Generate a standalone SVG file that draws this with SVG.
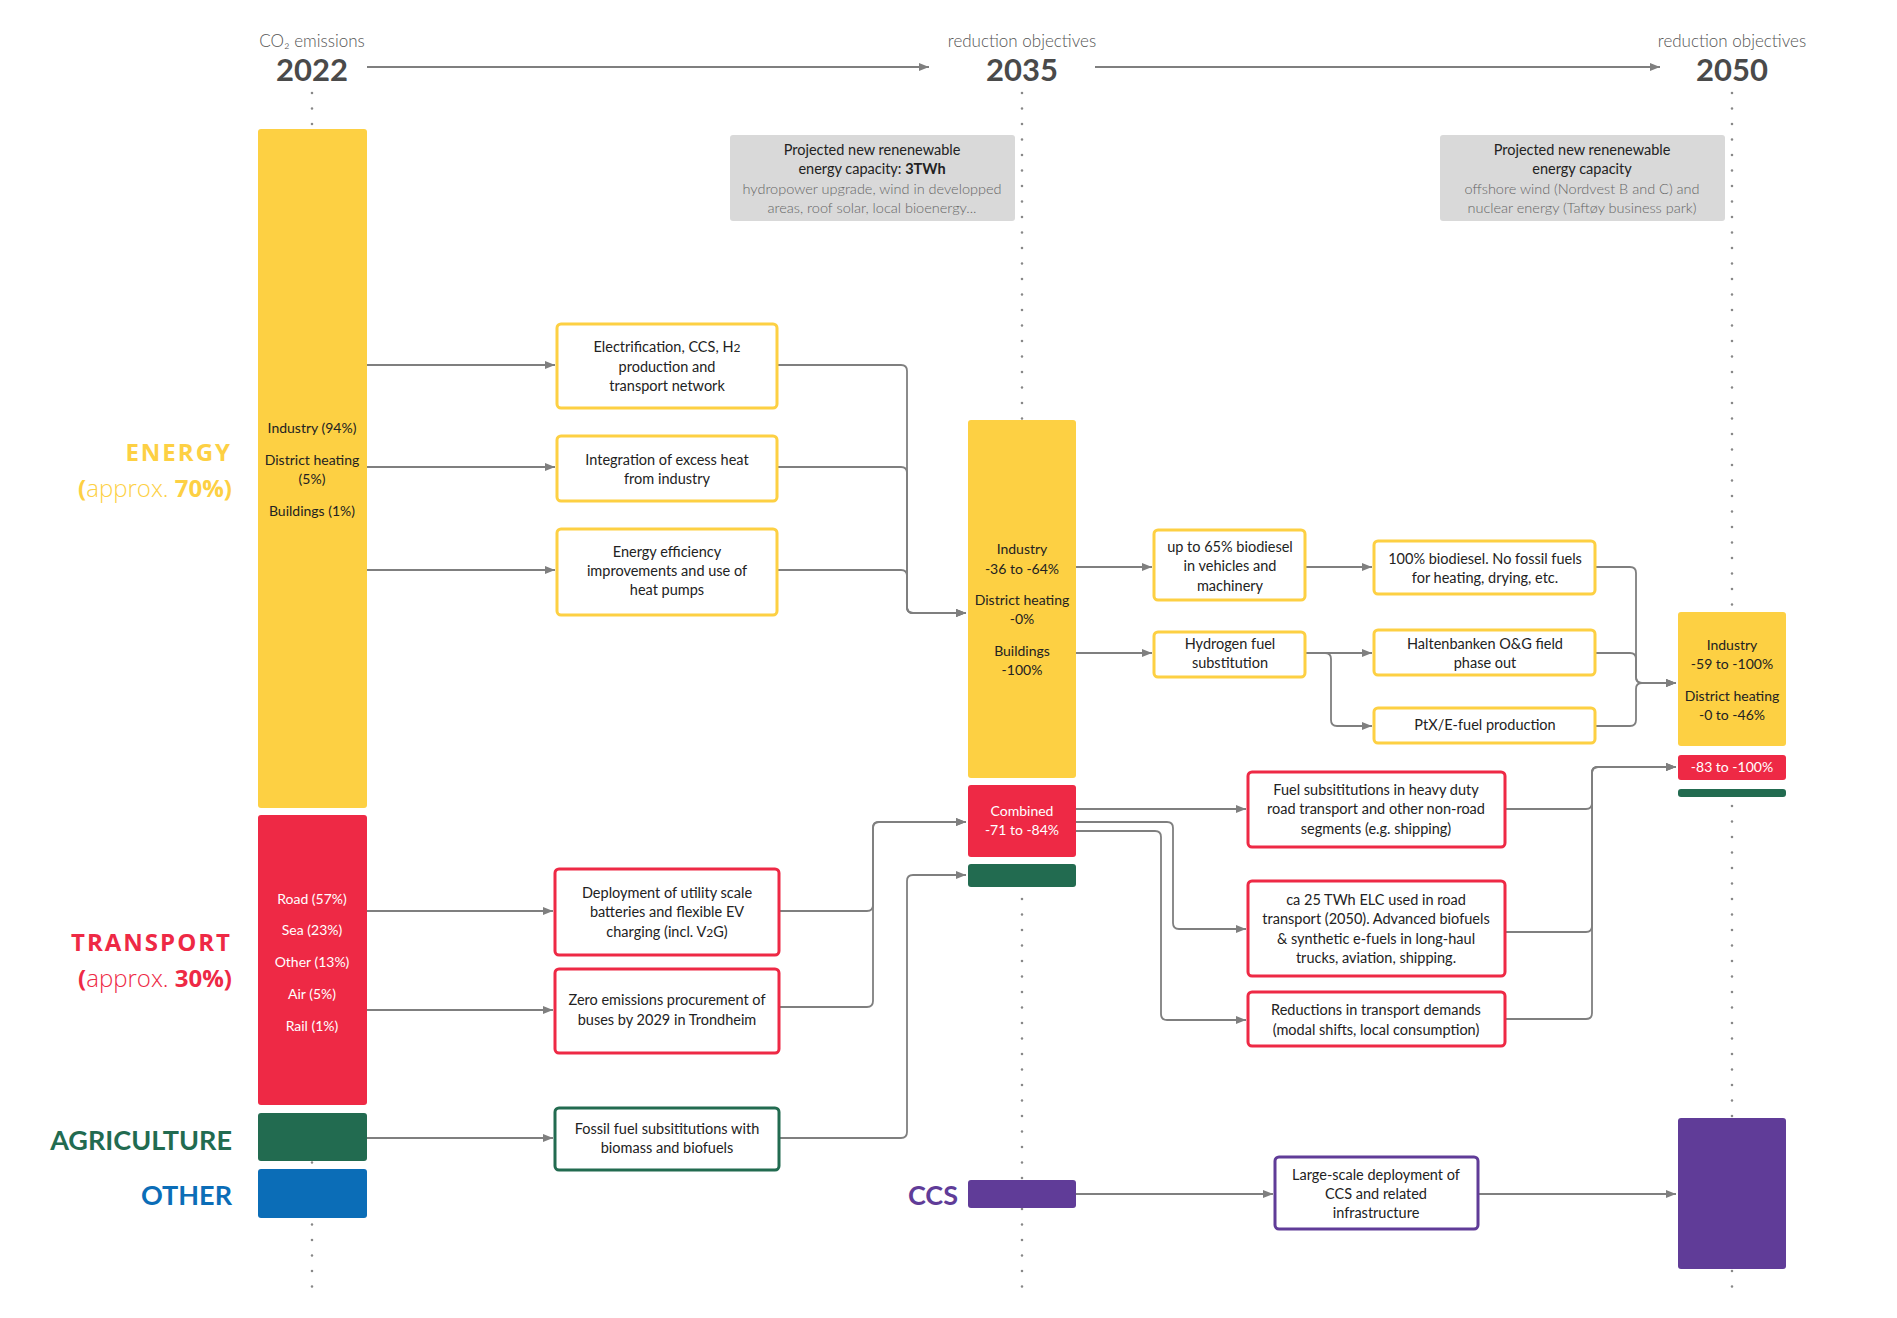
<svg xmlns="http://www.w3.org/2000/svg" width="1897" height="1318" viewBox="0 0 1897 1318">
<style>
text{font-family:Lato,"Open Sans","Liberation Sans",sans-serif;}
.hdr{font-size:17px;font-weight:300;fill:#555;text-anchor:middle;}
.year{font-size:31px;font-weight:700;fill:#4a4a4a;text-anchor:middle;}
.bt{font-size:14.5px;fill:#222;text-anchor:middle;}
.gt{font-size:14.5px;fill:#666;text-anchor:middle;font-weight:300;}
.st{font-size:14px;fill:#222;text-anchor:middle;}
.wt{font-size:14px;fill:#fff;text-anchor:middle;}
.cat{font-family:"Open Sans",Lato,sans-serif;font-size:24px;font-weight:700;text-anchor:end;letter-spacing:2px;}
.catl{font-family:"Open Sans",Lato,sans-serif;font-size:24px;text-anchor:end;}
.cat2{font-size:27px;font-weight:700;text-anchor:end;}
.dot{stroke:#888;stroke-width:2.6;stroke-dasharray:0 15.5;stroke-linecap:round;fill:none;}
.conn{fill:none;stroke:#7f7f7f;stroke-width:1.8;marker-end:url(#ah);}
.by{fill:#fff;stroke:#FDD043;stroke-width:3;}
.br{fill:#fff;stroke:#EE2945;stroke-width:3;}
.bg{fill:#fff;stroke:#226B50;stroke-width:3;}
.bp{fill:#fff;stroke:#603C98;stroke-width:3;}
.yel{fill:#FDD043;}.red{fill:#EE2945;}.grn{fill:#226B50;}.blu{fill:#0B6DB7;}.pur{fill:#603C98;}
.gray{fill:#D9D9D9;}
</style>
<defs>
<marker id="ah" viewBox="0 0 10 8" refX="10" refY="4" markerWidth="10" markerHeight="8" markerUnits="userSpaceOnUse" orient="auto">
<path d="M0,0 L10,4 L0,8 z" fill="#7f7f7f"/>
</marker>
</defs>
<rect width="1897" height="1318" fill="#fff"/>

<g id="timeline">
<line class="dot" x1="312" y1="93" x2="312" y2="1302"/>
<line class="dot" x1="1022" y1="93" x2="1022" y2="1302"/>
<line class="dot" x1="1732" y1="93" x2="1732" y2="1302"/>
<text class="hdr" x="312" y="47">CO₂ emissions</text>
<text class="year" x="312" y="81">2022</text>
<text class="hdr" x="1022" y="47">reduction objectives</text>
<text class="year" x="1022" y="81">2035</text>
<text class="hdr" x="1732" y="47">reduction objectives</text>
<text class="year" x="1732" y="81">2050</text>
</g>

<g id="connectors">
<path class="conn" d="M367,67 H929"/>
<path class="conn" d="M1095,67 H1660"/>
<path class="conn" d="M367,365 H555"/>
<path class="conn" d="M367,467 H555"/>
<path class="conn" d="M367,570 H555"/>
<path class="conn" d="M777,365 H901 Q907,365 907,371 V607 Q907,613 913,613 H966"/>
<path class="conn" d="M777,467 H901 Q907,467 907,473 V607 Q907,613 913,613 H966"/>
<path class="conn" d="M777,570 H901 Q907,570 907,576 V607 Q907,613 913,613 H966"/>
<path class="conn" d="M367,911 H553"/>
<path class="conn" d="M367,1010 H553"/>
<path class="conn" d="M367,1138 H553"/>
<path class="conn" d="M779,911 H867 Q873,911 873,905 V828 Q873,822 879,822 H966"/>
<path class="conn" d="M779,1007 H867 Q873,1007 873,1001 V828 Q873,822 879,822 H966"/>
<path class="conn" d="M779,1138 H901 Q907,1138 907,1132 V881 Q907,875 913,875 H966"/>
<path class="conn" d="M1076,567 H1152"/>
<path class="conn" d="M1076,653 H1152"/>
<path class="conn" d="M1305,567 H1372"/>
<path class="conn" d="M1305,653 H1372"/>
<path class="conn" d="M1305,653 H1325 Q1331,653 1331,659 V720 Q1331,726 1337,726 H1372"/>
<path class="conn" d="M1595,567 H1630 Q1636,567 1636,573 V677 Q1636,683 1642,683 H1676"/>
<path class="conn" d="M1595,653 H1630 Q1636,653 1636,659 V677 Q1636,683 1642,683 H1676"/>
<path class="conn" d="M1595,726 H1630 Q1636,726 1636,720 V689 Q1636,683 1642,683 H1676"/>
<path class="conn" d="M1076,809 H1246"/>
<path class="conn" d="M1076,822 H1167 Q1173,822 1173,828 V923 Q1173,929 1179,929 H1246"/>
<path class="conn" d="M1076,831 H1155 Q1161,831 1161,837 V1014 Q1161,1020 1167,1020 H1246"/>
<path class="conn" d="M1505,809 H1586 Q1592,809 1592,803 V773 Q1592,767 1598,767 H1676"/>
<path class="conn" d="M1505,932 H1586 Q1592,932 1592,926 V773 Q1592,767 1598,767 H1676"/>
<path class="conn" d="M1505,1019 H1586 Q1592,1019 1592,1013 V773 Q1592,767 1598,767 H1676"/>
<path class="conn" d="M1076,1194 H1273"/>
<path class="conn" d="M1478,1194 H1676"/>
</g>

<g id="labels">
<text class="cat" x="232" y="461" fill="#FDD043">ENERGY</text>
<text class="catl" x="232" y="497" fill="#FDD043"><tspan font-weight="700">(</tspan><tspan font-weight="300">approx. </tspan><tspan font-weight="700">70%)</tspan></text>
<text class="cat" x="232" y="951" fill="#EE2945">TRANSPORT</text>
<text class="catl" x="232" y="987" fill="#EE2945"><tspan font-weight="700">(</tspan><tspan font-weight="300">approx. </tspan><tspan font-weight="700">30%)</tspan></text>
<text class="cat2" x="232" y="1150" fill="#226B50">AGRICULTURE</text>
<text class="cat2" x="232" y="1205" fill="#0B6DB7">OTHER</text>
<text class="cat2" x="958" y="1205" fill="#603C98">CCS</text>
</g>

<g id="bar-2022-energy">
<rect class="yel" x="258" y="129" width="109" height="679" rx="3"/>
<text class="st" x="312" y="433">Industry (94%)</text>
<text class="st" x="312" y="465">District heating</text>
<text class="st" x="312" y="484">(5%)</text>
<text class="st" x="312" y="516">Buildings (1%)</text>
</g>
<g id="bar-2022-transport">
<rect class="red" x="258" y="815" width="109" height="290" rx="3"/>
<text class="wt" x="312" y="904">Road (57%)</text>
<text class="wt" x="312" y="935">Sea (23%)</text>
<text class="wt" x="312" y="967">Other (13%)</text>
<text class="wt" x="312" y="999">Air (5%)</text>
<text class="wt" x="312" y="1031">Rail (1%)</text>
</g>
<g id="bar-2022-agriculture"><rect class="grn" x="258" y="1113" width="109" height="48" rx="3"/></g>
<g id="bar-2022-other"><rect class="blu" x="258" y="1169" width="109" height="49" rx="3"/></g>

<g id="renewables-2035">
<rect class="gray" x="730" y="135" width="285" height="86" rx="3"/>
<text class="bt" x="872" y="155">Projected new renenewable</text>
<text class="bt" x="872" y="174">energy capacity: <tspan font-weight="700">3TWh</tspan></text>
<text class="gt" x="872" y="194">hydropower upgrade, wind in developped</text>
<text class="gt" x="872" y="213">areas, roof solar, local bioenergy...</text>
</g>
<g id="renewables-2050">
<rect class="gray" x="1440" y="135" width="285" height="86" rx="3"/>
<text class="bt" x="1582" y="155">Projected new renenewable</text>
<text class="bt" x="1582" y="174">energy capacity</text>
<text class="gt" x="1582" y="194">offshore wind (Nordvest B and C) and</text>
<text class="gt" x="1582" y="213">nuclear energy (Taftøy business park)</text>
</g>

<g id="e1"><rect class="by" x="557" y="324" width="220" height="84" rx="4"/>
<text class="bt" x="667" y="352">Electrification, CCS, H<tspan font-size="12">2</tspan></text>
<text class="bt" x="667" y="372">production and</text>
<text class="bt" x="667" y="391">transport network</text></g>
<g id="e2"><rect class="by" x="557" y="436" width="220" height="65" rx="4"/>
<text class="bt" x="667" y="465">Integration of excess heat</text>
<text class="bt" x="667" y="484">from industry</text></g>
<g id="e3"><rect class="by" x="557" y="529" width="220" height="86" rx="4"/>
<text class="bt" x="667" y="557">Energy efficiency</text>
<text class="bt" x="667" y="576">improvements and use of</text>
<text class="bt" x="667" y="595">heat pumps</text></g>

<g id="t1"><rect class="br" x="555" y="869" width="224" height="86" rx="4"/>
<text class="bt" x="667" y="898">Deployment of utility scale</text>
<text class="bt" x="667" y="917">batteries and flexible EV</text>
<text class="bt" x="667" y="937">charging (incl. V<tspan font-size="12">2</tspan>G)</text></g>
<g id="t2"><rect class="br" x="555" y="969" width="224" height="84" rx="4"/>
<text class="bt" x="667" y="1005">Zero emissions procurement of</text>
<text class="bt" x="667" y="1025">buses by 2029 in Trondheim</text></g>
<g id="a1"><rect class="bg" x="555" y="1108" width="224" height="62" rx="4"/>
<text class="bt" x="667" y="1134">Fossil fuel subsititutions with</text>
<text class="bt" x="667" y="1153">biomass and biofuels</text></g>

<g id="bar-2035-energy">
<rect class="yel" x="968" y="420" width="108" height="358" rx="3"/>
<text class="st" x="1022" y="554">Industry</text>
<text class="st" x="1022" y="574">-36 to -64%</text>
<text class="st" x="1022" y="605">District heating</text>
<text class="st" x="1022" y="624">-0%</text>
<text class="st" x="1022" y="656">Buildings</text>
<text class="st" x="1022" y="675">-100%</text>
</g>
<g id="bar-2035-transport">
<rect class="red" x="968" y="785" width="108" height="72" rx="3"/>
<text class="wt" x="1022" y="816">Combined</text>
<text class="wt" x="1022" y="835">-71 to -84%</text>
</g>
<g id="bar-2035-agriculture"><rect class="grn" x="968" y="864" width="108" height="23" rx="3"/></g>
<g id="bar-2035-ccs"><rect class="pur" x="968" y="1180" width="108" height="28" rx="3"/></g>

<g id="b1"><rect class="by" x="1154" y="530" width="151" height="70" rx="4"/>
<text class="bt" x="1230" y="552">up to 65% biodiesel</text>
<text class="bt" x="1230" y="571">in vehicles and</text>
<text class="bt" x="1230" y="591">machinery</text></g>
<g id="b2"><rect class="by" x="1154" y="632" width="151" height="45" rx="4"/>
<text class="bt" x="1230" y="649">Hydrogen fuel</text>
<text class="bt" x="1230" y="668">substitution</text></g>
<g id="c1"><rect class="by" x="1374" y="541" width="221" height="53" rx="4"/>
<text class="bt" x="1485" y="564">100% biodiesel. No fossil fuels</text>
<text class="bt" x="1485" y="583">for heating, drying, etc.</text></g>
<g id="c2"><rect class="by" x="1374" y="630" width="221" height="45" rx="4"/>
<text class="bt" x="1485" y="649">Haltenbanken O&amp;G field</text>
<text class="bt" x="1485" y="668">phase out</text></g>
<g id="c3"><rect class="by" x="1374" y="708" width="221" height="35" rx="4"/>
<text class="bt" x="1485" y="730">PtX/E-fuel production</text></g>

<g id="r1"><rect class="br" x="1248" y="772" width="257" height="75" rx="4"/>
<text class="bt" x="1376" y="795">Fuel subsititutions in heavy duty</text>
<text class="bt" x="1376" y="814">road transport and other non-road</text>
<text class="bt" x="1376" y="834">segments (e.g. shipping)</text></g>
<g id="r2"><rect class="br" x="1248" y="881" width="257" height="95" rx="4"/>
<text class="bt" x="1376" y="905">ca 25 TWh ELC used in road</text>
<text class="bt" x="1376" y="924">transport (2050). Advanced biofuels</text>
<text class="bt" x="1376" y="944">&amp; synthetic e-fuels in long-haul</text>
<text class="bt" x="1376" y="963">trucks, aviation, shipping.</text></g>
<g id="r3"><rect class="br" x="1248" y="992" width="257" height="54" rx="4"/>
<text class="bt" x="1376" y="1015">Reductions in transport demands</text>
<text class="bt" x="1376" y="1035">(modal shifts, local consumption)</text></g>

<g id="ccs1"><rect class="bp" x="1275" y="1157" width="203" height="72" rx="4"/>
<text class="bt" x="1376" y="1180">Large-scale deployment of</text>
<text class="bt" x="1376" y="1199">CCS and related</text>
<text class="bt" x="1376" y="1218">infrastructure</text></g>

<g id="bar-2050-energy">
<rect class="yel" x="1678" y="612" width="108" height="134" rx="3"/>
<text class="st" x="1732" y="650">Industry</text>
<text class="st" x="1732" y="669">-59 to -100%</text>
<text class="st" x="1732" y="701">District heating</text>
<text class="st" x="1732" y="720">-0 to -46%</text>
</g>
<g id="bar-2050-transport">
<rect class="red" x="1678" y="755" width="108" height="25" rx="3"/>
<text class="wt" x="1732" y="772">-83 to -100%</text>
</g>
<g id="bar-2050-agriculture"><rect class="grn" x="1678" y="789" width="108" height="8" rx="3"/></g>
<g id="bar-2050-ccs"><rect class="pur" x="1678" y="1118" width="108" height="151" rx="3"/></g>
</svg>
